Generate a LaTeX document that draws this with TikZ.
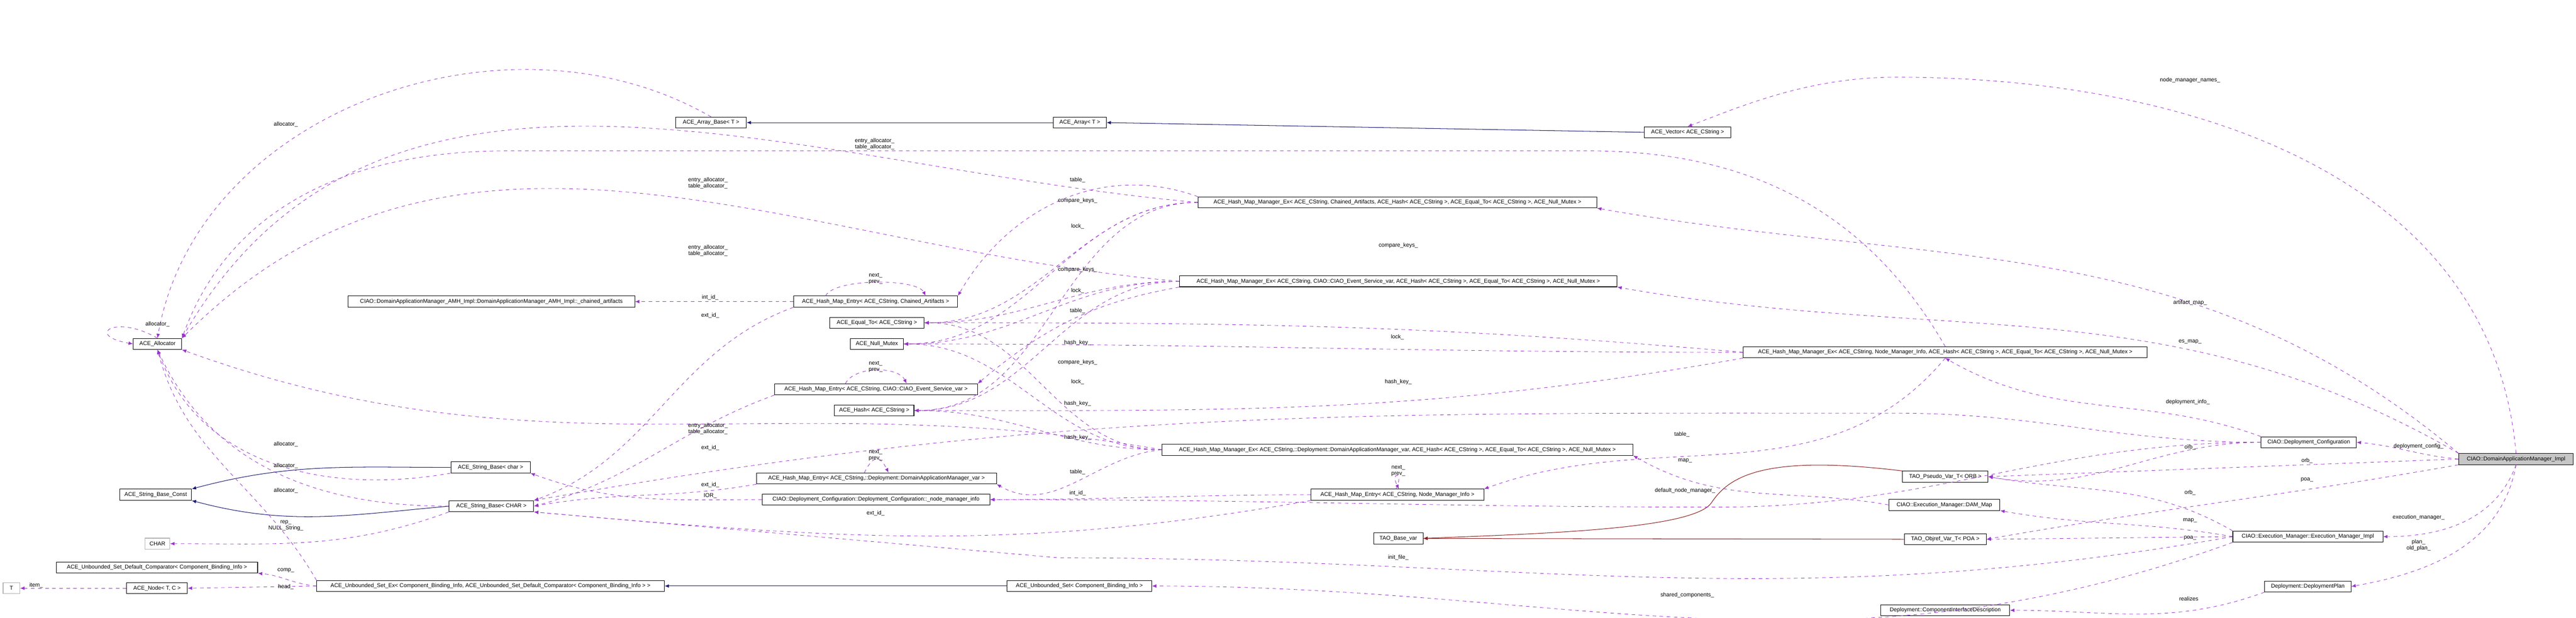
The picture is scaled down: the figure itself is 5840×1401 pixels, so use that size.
\documentclass[tikz,border=0pt]{standalone}
\usepackage{fontspec}
\setmainfont{Liberation Sans}
\usetikzlibrary{arrows.meta}
\definecolor{memcol}{HTML}{9A32CD}
\definecolor{inhcol}{HTML}{191970}
\definecolor{tplcol}{HTML}{8B1A1A}
\tikzset{
  w/.style={minimum width=#1*0.2pt},
  cls/.style={draw, line width=0.12pt, inner sep=0.2pt, minimum height=2.5pt, font=\fontsize{1.26}{1.4}\selectfont},
  ext/.style={cls, draw=gray!60},
  main/.style={cls, fill=gray!45},
  lbl/.style={inner sep=0pt, align=center, font=\fontsize{1.26}{1.4}\selectfont},
  mem/.style={draw=memcol, line width=0.1pt, dash pattern=on 0.8pt off 0.8pt, -{Latex[length=1pt,width=0.8pt]}},
  inh/.style={draw=inhcol, line width=0.12pt, -{Latex[length=1pt,width=0.8pt]}},
  tpl/.style={draw=tplcol, line width=0.12pt, -{Latex[length=1pt,width=0.8pt]}}
}
\begin{document}
\begin{tikzpicture}[x=0.1pt, y=-0.1pt]
\useasboundingbox (0,0) rectangle (5840,1401);
% classes
\node[cls, w=55] (alloc) at (357,780) {ACE\_Allocator};
\node[cls, w=80] (arrbase) at (1612,278) {ACE\_Array\_Base< T >};
\node[cls, w=60] (arr) at (2448,278) {ACE\_Array< T >};
\node[cls, w=98] (vec) at (3826,300) {ACE\_Vector< ACE\_CString >};
\node[cls, w=325] (amh) at (1114,684) {CIAO::DomainApplicationManager\_AMH\_Impl::DomainApplicationManager\_AMH\_Impl::\_chained\_artifacts};
\node[cls, w=186] (hmeca) at (1985,684) {ACE\_Hash\_Map\_Entry< ACE\_CString, Chained\_Artifacts >};
\node[cls, w=107] (eq) at (1988,732) {ACE\_Equal\_To< ACE\_CString >};
\node[cls, w=60] (mutex) at (1988,780) {ACE\_Null\_Mutex};
\node[cls, w=230] (hmees) at (1986,883) {ACE\_Hash\_Map\_Entry< ACE\_CString, CIAO::CIAO\_Event\_Service\_var >};
\node[cls, w=90] (hash) at (1982,931) {ACE\_Hash< ACE\_CString >};
\node[cls, w=272] (hmedam) at (1987,1085) {ACE\_Hash\_Map\_Entry< ACE\_CString,::Deployment::DomainApplicationManager\_var >};
\node[cls, w=258] (nminfo) at (1986,1133) {CIAO::Deployment\_Configuration::Deployment\_Configuration::\_node\_manager\_info};
\node[cls, w=90] (sbchar) at (1112,1060) {ACE\_String\_Base< char >};
\node[cls, w=81] (sbconst) at (353,1122) {ACE\_String\_Base\_Const};
\node[cls, w=96] (sbCHAR) at (1114,1148) {ACE\_String\_Base< CHAR >};
\node[ext, w=28] (chr) at (357,1233) {CHAR};
\node[cls, w=228] (cmp) at (356,1287) {ACE\_Unbounded\_Set\_Default\_Comparator< Component\_Binding\_Info >};
\node[cls, w=69] (lnode) at (356,1334) {ACE\_Node< T, C >};
\node[ext, w=19] (tpar) at (26,1334) {T};
\node[cls, w=394] (usetex) at (1112,1329) {ACE\_Unbounded\_Set\_Ex< Component\_Binding\_Info, ACE\_Unbounded\_Set\_Default\_Comparator< Component\_Binding\_Info > >};
\node[cls, w=164] (uset) at (2447,1329) {ACE\_Unbounded\_Set< Component\_Binding\_Info >};
\node[cls, w=452] (hmmca) at (3168,459) {ACE\_Hash\_Map\_Manager\_Ex< ACE\_CString, Chained\_Artifacts, ACE\_Hash< ACE\_CString >, ACE\_Equal\_To< ACE\_CString >, ACE\_Null\_Mutex >};
\node[cls, w=496] (hmmes) at (3170,638) {ACE\_Hash\_Map\_Manager\_Ex< ACE\_CString, CIAO::CIAO\_Event\_Service\_var, ACE\_Hash< ACE\_CString >, ACE\_Equal\_To< ACE\_CString >, ACE\_Null\_Mutex >};
\node[cls, w=458] (hmmnm) at (4410,799) {ACE\_Hash\_Map\_Manager\_Ex< ACE\_CString, Node\_Manager\_Info, ACE\_Hash< ACE\_CString >, ACE\_Equal\_To< ACE\_CString >, ACE\_Null\_Mutex >};
\node[cls, w=534] (hmmdam) at (3168,1020) {ACE\_Hash\_Map\_Manager\_Ex< ACE\_CString,::Deployment::DomainApplicationManager\_var, ACE\_Hash< ACE\_CString >, ACE\_Equal\_To< ACE\_CString >, ACE\_Null\_Mutex >};
\node[cls, w=196] (hmenm) at (3168,1122) {ACE\_Hash\_Map\_Entry< ACE\_CString, Node\_Manager\_Info >};
\node[cls, w=56] (taobase) at (3170,1221) {TAO\_Base\_var};
\node[cls, w=97] (pseudo) at (4410,1081) {TAO\_Pseudo\_Var\_T< ORB >};
\node[cls, w=126] (dammap) at (4408,1145) {CIAO::Execution\_Manager::DAM\_Map};
\node[cls, w=93] (objref) at (4410,1223) {TAO\_Objref\_Var\_T< POA >};
\node[cls, w=108] (depconf) at (5234,1003) {CIAO::Deployment\_Configuration};
\node[main, w=130] (dam) at (5704,1041) {CIAO::DomainApplicationManager\_Impl};
\node[cls, w=170] (exec) at (5232,1217) {CIAO::Execution\_Manager::Execution\_Manager\_Impl};
\node[cls, w=98] (plan) at (5232,1330) {Deployment::DeploymentPlan};
\node[cls, w=146] (cid) at (4410,1384) {Deployment::ComponentInterfaceDescription};
% inheritance and templates
\draw[inh] (arr) -- (arrbase);
\draw[inh] (vec.west) -- (arr.east);
\draw[inh] (sbchar.west) to[out=180,in=15] (sbconst.north east);
\draw[inh] (sbCHAR.west) to[out=185,in=-15] (sbconst.south east);
\draw[inh] (uset) -- (usetex);
\draw[tpl] (pseudo.north west) .. controls (4000,1030) and (3920,1080) .. (3880,1140) .. controls (3840,1200) and (3500,1210) .. (taobase.east);
\draw[tpl] (objref) -- (taobase);
% members
\draw[mem] (alloc.north) to[out=150,in=170,looseness=5] (alloc.west);
\draw[mem] (arrbase.north) to[out=150,in=80] (alloc.north);
\draw[mem] (hmmnm.north) to[out=120,in=0] (3600,342) -- (1150,342) to[out=180,in=70] (alloc.north east);
\draw[mem] (hmmca.west) to[out=175,in=60] (alloc.north east);
\draw[mem] (hmmes.west) to[out=175,in=45] (alloc.north east);
\draw[mem] (hmmdam.west) to[out=170,in=-20] (alloc.south east);
\draw[mem] (sbchar.south west) to[out=190,in=-70] (alloc.south);
\draw[mem] (sbCHAR.west) to[out=180,in=-65] (alloc.south);
\draw[mem] (usetex.north west) to[out=120,in=-75] (alloc.south);
\draw[mem] (sbCHAR.south west) to[out=200,in=0] (chr.east);
\draw[mem] (usetex.west) to[out=175,in=-5] (cmp.south east);
\draw[mem] (usetex.west) -- (lnode.east);
\draw[mem] (lnode.west) -- (tpar.east);
\draw[mem] (hmeca.west) -- (amh.east);
\draw[mem] ([xshift=-30]hmeca.north east) .. controls +(20,-40) and +(-20,-40) .. ([xshift=30]hmeca.north west);
\draw[mem] (hmeca.south west) to[out=200,in=20] (sbCHAR.north east);
\draw[mem] ([xshift=-30]hmees.north east) .. controls +(20,-40) and +(-20,-40) .. ([xshift=30]hmees.north west);
\draw[mem] (hmees.south west) to[out=200,in=15] (sbCHAR.east);
\draw[mem] ([xshift=-30]hmedam.north east) .. controls +(20,-40) and +(-20,-40) .. ([xshift=30]hmedam.north west);
\draw[mem] (hmedam.south west) to[out=190,in=10] (sbCHAR.east);
\draw[mem] (nminfo.west) to[out=180,in=-20] (sbchar.south east);
\foreach \m in {hmmca,hmmes,hmmdam} {
  \draw[mem] (\m.west) to[out=180,in=0] (eq.east);
  \draw[mem] (\m.west) to[out=180,in=0] (mutex.east);
  \draw[mem] (\m.west) to[out=180,in=0] (hash.east);
}
\draw[mem] (hmmnm.west) to[out=175,in=0] (eq.east);
\draw[mem] (hmmnm.west) to[out=180,in=0] (mutex.east);
\draw[mem] (hmmnm.south west) to[out=190,in=0] (hash.east);
\draw[mem] (hmmca.north west) to[out=160,in=60] (hmeca.north east);
\draw[mem] (hmmes.south west) to[out=190,in=40] (hmees.north east);
\draw[mem] (hmmdam.west) to[out=185,in=-30] (hmedam.south east);
\draw[mem] (hmmnm.south) to[out=230,in=20] (hmenm.north east);
\draw[mem] ([xshift=-20]hmenm.north east) .. controls +(20,-40) and +(-20,-40) .. ([xshift=20]hmenm.north west);
\draw[mem] (hmenm.west) to[out=180,in=0] (nminfo.east);
\draw[mem] (hmenm.south west) to[out=190,in=-5] (sbCHAR.south east);
\draw[mem] (depconf.west) to[out=180,in=0] (3900,1150) to[out=180,in=0] (nminfo.east);
\draw[mem] (dammap.west) to[out=170,in=-30] (hmmdam.south east);
\draw[mem] (exec.west) to[out=190,in=0] (2400,1265) -- (sbCHAR.south east);
\draw[mem] (exec.south west) to[out=200,in=0] (uset.east);
\draw[mem] (plan.south west) to[out=200,in=0] (cid.east);
\draw[mem] (depconf.north west) to[out=160,in=-30] (hmmnm.south);
\draw[mem] (depconf.west) to[out=180,in=-10] (pseudo.east);
\draw[mem] (depconf.west) to[out=180,in=0] (4300,937) to[out=180,in=10] (sbCHAR.north east);
\draw[mem] (dam.north) to[out=95,in=0] (4300,175) .. controls (4100,175) and (3950,240) .. (vec.north);
\draw[mem] (dam.north west) to[out=140,in=-10] (hmmca.south east);
\draw[mem] (dam.north west) to[out=150,in=-10] (hmmes.south east);
\draw[mem] (dam.west) to[out=175,in=-5] (depconf.east);
\draw[mem] (dam.west) -- (pseudo.east);
\draw[mem] (dam.south west) to[out=190,in=10] (objref.east);
\draw[mem] (dam.south) to[out=250,in=0] (exec.east);
\draw[mem] (dam.south) to[out=260,in=10] (plan.east);
\draw[mem] (exec.north west) to[out=150,in=-10] (pseudo.east);
\draw[mem] (exec.west) to[out=170,in=-10] (dammap.south east);
\draw[mem] (exec.west) -- (objref.east);
% labels
\node[lbl] (l1) at (357,735) {allocator\_};
\node[lbl] (l2) at (648,282) {allocator\_};
\node[lbl] (l3) at (1983,327) {entry\_allocator\_\\table\_allocator\_};
\node[lbl] (l4) at (1605,415) {entry\_allocator\_\\table\_allocator\_};
\node[lbl] (l5) at (1605,568) {entry\_allocator\_\\table\_allocator\_};
\node[lbl] (l6) at (1605,972) {entry\_allocator\_\\table\_allocator\_};
\node[lbl] (l7) at (648,1007) {allocator\_};
\node[lbl] (l8) at (648,1056) {allocator\_};
\node[lbl] (l9) at (648,1113) {allocator\_};
\node[lbl] (l10) at (648,1192) {rep\_\\NULL\_String\_};
\node[lbl] (l11) at (648,1294) {comp\_};
\node[lbl] (l12) at (648,1331) {head\_};
\node[lbl] (l13) at (82,1328) {item\_};
\node[lbl] (l14) at (1610,675) {int\_id\_};
\node[lbl] (l15) at (1985,632) {next\_\\prev\_};
\node[lbl] (l16) at (1610,716) {ext\_id\_};
\node[lbl] (l17) at (1985,832) {next\_\\prev\_};
\node[lbl] (l18) at (1610,1016) {ext\_id\_};
\node[lbl] (l19) at (1985,1033) {next\_\\prev\_};
\node[lbl] (l20) at (1610,1100) {ext\_id\_};
\node[lbl] (l21) at (1610,1125) {IOR\_};
\node[lbl] (l22) at (1985,1164) {ext\_id\_};
\node[lbl] (l23) at (2443,408) {table\_};
\node[lbl] (l24) at (2443,455) {compare\_keys\_};
\node[lbl] (l25) at (2443,514) {lock\_};
\node[lbl] (l26) at (2443,612) {compare\_keys\_};
\node[lbl] (l27) at (2443,659) {lock\_};
\node[lbl] (l28) at (2443,705) {table\_};
\node[lbl] (l29) at (2443,778) {hash\_key\_};
\node[lbl] (l30) at (2443,822) {compare\_keys\_};
\node[lbl] (l31) at (2443,866) {lock\_};
\node[lbl] (l32) at (2443,915) {hash\_key\_};
\node[lbl] (l33) at (2443,992) {hash\_key\_};
\node[lbl] (l34) at (2443,1071) {table\_};
\node[lbl] (l35) at (2443,1118) {int\_id\_};
\node[lbl] (l36) at (3170,557) {compare\_keys\_};
\node[lbl] (l37) at (3168,765) {lock\_};
\node[lbl] (l38) at (3170,866) {hash\_key\_};
\node[lbl] (l39) at (3813,985) {table\_};
\node[lbl] (l40) at (3170,1068) {next\_\\prev\_};
\node[lbl] (l41) at (3820,1045) {map\_};
\node[lbl] (l42) at (3820,1113) {default\_node\_manager\_};
\node[lbl] (l43) at (3170,1265) {init\_file\_};
\node[lbl] (l44) at (3825,1350) {shared\_components\_};
\node[lbl] (l45) at (4962,1358) {realizes};
\node[lbl] (l46) at (4960,912) {deployment\_info\_};
\node[lbl] (l47) at (4965,1015) {orb\_};
\node[lbl] (l48) at (4965,182) {node\_manager\_names\_};
\node[lbl] (l49) at (4965,686) {artifact\_map\_};
\node[lbl] (l50) at (4965,775) {es\_map\_};
\node[lbl] (l51) at (5483,1012) {deployment\_config\_};
\node[lbl] (l52) at (5230,1045) {orb\_};
\node[lbl] (l53) at (5230,1088) {poa\_};
\node[lbl] (l54) at (5483,1173) {execution\_manager\_};
\node[lbl] (l55) at (5483,1236) {plan\_\\old\_plan\_};
\node[lbl] (l56) at (4965,1117) {orb\_};
\node[lbl] (l57) at (4965,1180) {map\_};
\node[lbl] (l58) at (4965,1220) {poa\_};
\end{tikzpicture}
\end{document}
